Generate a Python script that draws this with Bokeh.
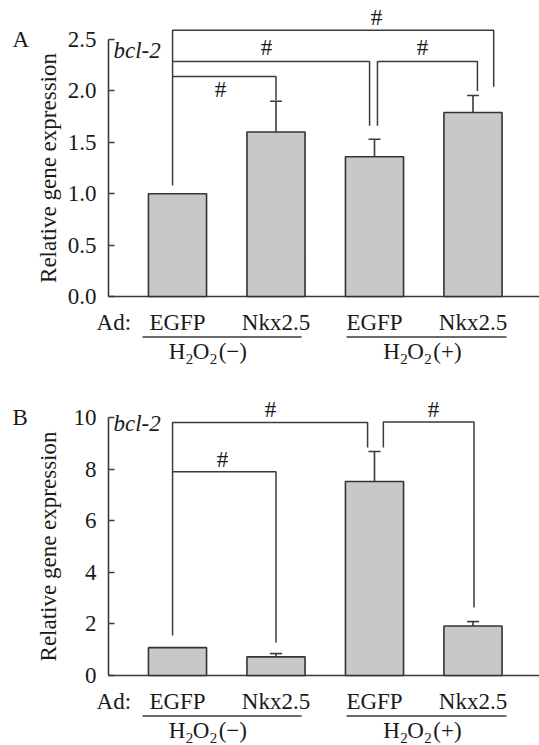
from bokeh.plotting import figure
from bokeh.layouts import column
from bokeh.models import (Range1d, FixedTicker, Whisker, TeeHead,
                          ColumnDataSource, LinearAxis)
from bokeh.core.properties import value
from bokeh.embed import file_html
from bokeh.resources import INLINE

# ---------------- data ----------------
groups = ["EGFP", "Nkx2.5", "EGFP", "Nkx2.5"]
xpos = [0, 1, 2, 3]
treat_signs = ["(\u2212)", "(+)"]

a_mean = [1.00, 1.60, 1.36, 1.79]
a_err = [0.00, 0.30, 0.17, 0.165]
a_ticks = [0, 0.5, 1.0, 1.5, 2.0, 2.5]
a_tick_labels = ["0.0", "0.5", "1.0", "1.5", "2.0", "2.5"]

b_mean = [1.08, 0.72, 7.52, 1.92]
b_err = [0.00, 0.13, 1.16, 0.17]
b_ticks = [0, 2, 4, 6, 8, 10]
b_tick_labels = ["0", "2", "4", "6", "8", "10"]

# significance brackets (x in bar index units, y in data units)
a_br_x = [[-0.05, -0.05, 3.21, 3.21], [-0.05, 1.0, 1.0], [-0.05, 1.95, 1.95], [2.03, 2.03, 3.045, 3.045]]
a_br_y = [[1.08, 2.59, 2.59, 2.04], [2.14, 2.14, 1.91], [2.286, 2.286, 1.66], [1.66, 2.286, 2.286, 2.0]]
a_hash_x = [0.437, 0.904, 2.487, 2.02]
a_hash_y = [1.926, 2.335, 2.335, 2.626]

b_br_x = [[-0.05, -0.05, 1.93, 1.93], [-0.05, 1.0, 1.0], [2.09, 2.09, 3.01, 3.01]]
b_br_y = [[1.55, 9.81, 9.81, 8.84], [7.9, 7.9, 1.28], [8.84, 9.83, 9.83, 2.64]]
b_hash_x = [0.457, 0.944, 2.60]
b_hash_y = [8.02, 9.96, 9.96]

underline_x0 = [-0.355, 1.716]
underline_x1 = [1.26, 3.34]
treat_label_x = [-0.09, 2.09]
ad_label_x = -0.822
panel_letter_x = -1.675
bcl_x = -0.65

FONT = value("Liberation Serif")
TXT = "#1a1a1a"
LINE = "#3a3a3a"
W = 539
PX_X = 98.5            # px per bar slot
BAR0_PX = 177          # px of first bar centre from the left edge
AXIS_PX = 108          # px of the y axis from the left edge
FIX = -9               # baseline correction for 23px text glyphs
FIX_S = -6             # baseline correction for 15px text glyphs


def panel(letter, means, errs, ticks, tick_labels, br_x, br_y, hash_x, hash_y,
          bcl_y, top_tick, ppu, zero_px, height, title_standoff):
    x0 = -BAR0_PX / PX_X
    x1 = (W - BAR0_PX) / PX_X
    y0 = -(height - zero_px) / ppu
    y1 = zero_px / ppu
    p = figure(width=W, height=height, output_backend="svg", toolbar_location=None,
               x_range=Range1d(x0, x1), y_range=Range1d(y0, y1),
               x_axis_location=None, y_axis_location=None, title=None,
               min_border_left=0, min_border_right=0, min_border_top=0,
               min_border_bottom=0)
    p.outline_line_color = None
    p.xgrid.visible = False
    p.ygrid.visible = False
    p.background_fill_color = "white"
    axis_x = (AXIS_PX - BAR0_PX) / PX_X

    ax = LinearAxis(ticker=FixedTicker(ticks=ticks), bounds=(0, top_tick),
                    fixed_location=axis_x)
    ax.major_label_overrides = {t: l for t, l in zip(ticks, tick_labels)}
    ax.major_tick_in = 6
    ax.major_tick_out = 0
    ax.minor_tick_in = 0
    ax.minor_tick_out = 0
    ax.axis_line_color = LINE
    ax.axis_line_width = 1.6
    ax.major_tick_line_color = LINE
    ax.major_tick_line_width = 1.6
    ax.major_label_text_font = "Liberation Serif"
    ax.major_label_text_font_size = "23px"
    ax.major_label_text_color = TXT
    ax.major_label_standoff = 12
    ax.axis_label = "Relative gene expression"
    ax.axis_label_text_font = "Liberation Serif"
    ax.axis_label_text_font_size = "23px"
    ax.axis_label_text_font_style = "normal"
    ax.axis_label_text_color = TXT
    ax.axis_label_standoff = title_standoff
    p.add_layout(ax, "left")

    # x axis line, from the y axis to the right edge
    p.segment(x0=[axis_x], y0=[0], x1=[x1], y1=[0], line_color=LINE, line_width=1.6)

    src = ColumnDataSource(dict(x=xpos, top=means))
    p.vbar(x="x", top="top", bottom=0, width=0.59, source=src,
           fill_color="#c8c8c8", line_color="#333333", line_width=1.6)

    ex = [x for x, e in zip(xpos, errs) if e > 0]
    el = [m for m, e in zip(means, errs) if e > 0]
    eu = [m + e for m, e in zip(means, errs) if e > 0]
    esrc = ColumnDataSource(dict(x=ex, lower=el, upper=eu))
    p.add_layout(Whisker(source=esrc, base="x", lower="lower", upper="upper",
                         dimension="height", line_color=LINE, line_width=1.6,
                         lower_head=None,
                         upper_head=TeeHead(size=12, line_color=LINE, line_width=1.6)))

    p.multi_line(xs=br_x, ys=br_y, line_color=LINE, line_width=1.5)
    p.text(x=hash_x, y=hash_y, text=["#"] * len(hash_x), text_font=FONT,
           text_font_size="23px", text_align="center", text_baseline="alphabetic",
           y_offset=FIX, text_color=TXT)

    p.text(x=[bcl_x], y=[bcl_y], text=["bcl-2"], text_font=FONT, text_font_size="23px",
           text_font_style="italic", text_align="left", text_baseline="alphabetic",
           y_offset=FIX, text_color=TXT)

    # category labels
    p.text(x=xpos, y=[0] * 4, text=groups, text_font=FONT, text_font_size="23px",
           text_align="center", text_baseline="alphabetic", y_offset=35 + FIX,
           text_color=TXT)
    p.text(x=[ad_label_x], y=[0], text=["Ad:"], text_font=FONT, text_font_size="23px",
           text_align="left", text_baseline="alphabetic", y_offset=35 + FIX,
           text_color=TXT)
    # underlines
    uy = -40.5 / ppu
    p.segment(x0=underline_x0, y0=[uy] * 2, x1=underline_x1, y1=[uy] * 2,
              line_color=LINE, line_width=1.5)
    # H2O2(+/-) pieces
    pieces = [("H", 0, 23, 64 + FIX), ("2", 17, 15, 68 + FIX_S),
              ("O", 24, 23, 64 + FIX), ("2", 41, 15, 68 + FIX_S)]
    for t, dx, fs, dy in pieces:
        p.text(x=treat_label_x, y=[0, 0], text=[t, t], text_font=FONT,
               text_font_size=f"{fs}px", text_align="left", text_baseline="alphabetic",
               x_offset=dx, y_offset=dy, text_color=TXT)
    p.text(x=treat_label_x, y=[0, 0], text=treat_signs, text_font=FONT,
           text_font_size="23px", text_align="left", text_baseline="alphabetic",
           x_offset=50, y_offset=64 + FIX, text_color=TXT)

    # panel letter
    p.text(x=[panel_letter_x], y=[top_tick], text=[letter], text_font=FONT,
           text_font_size="23px", text_align="left", text_baseline="alphabetic",
           y_offset=9 + FIX, text_color=TXT)
    return p


pa = panel("A", a_mean, a_err, a_ticks, a_tick_labels, a_br_x, a_br_y, a_hash_x, a_hash_y,
           2.305, 2.5, 102.8, 296, 380, 4)
pb = panel("B", b_mean, b_err, b_ticks, b_tick_labels, b_br_x, b_br_y, b_hash_x, b_hash_y,
           9.42, 10, 25.8, 295, 365, 10)

layout = column(pa, pb, spacing=0)
open("out.html", "w").write(file_html(layout, INLINE))
